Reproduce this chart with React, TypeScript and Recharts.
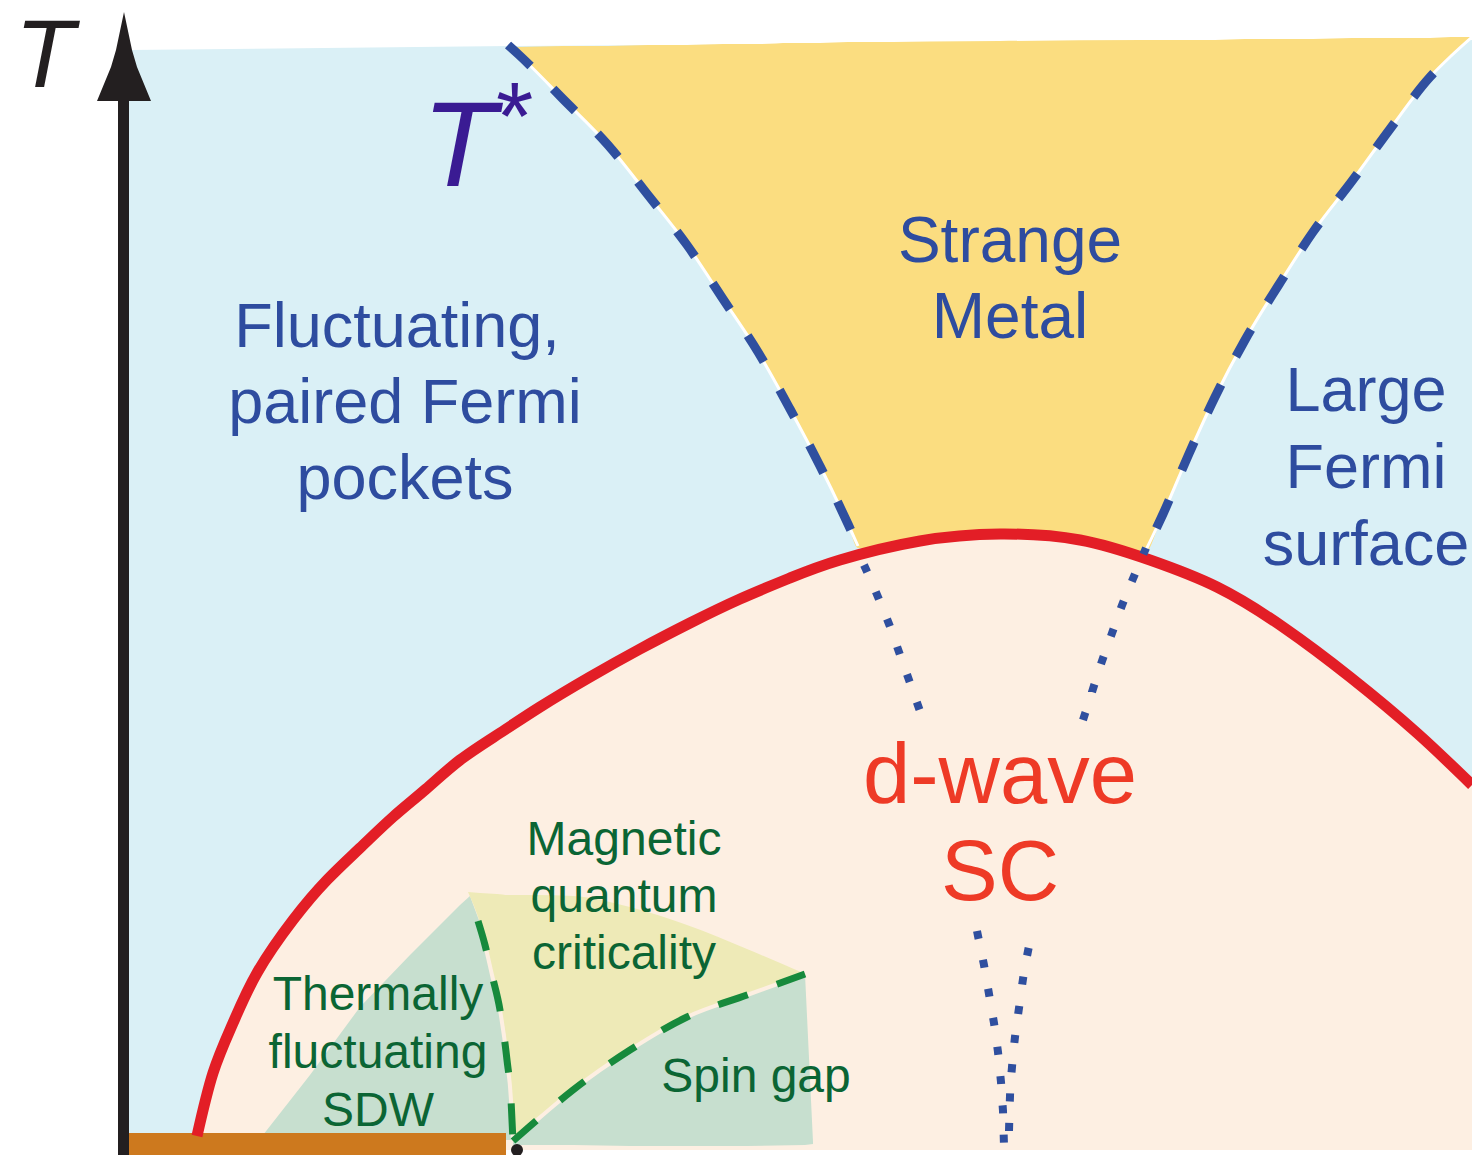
import React from 'react';
import { ComposedChart, Area, Line, Scatter, XAxis, YAxis, ReferenceDot } from 'recharts';

const W = 1472;
const H = 1155;
const FONT = '"Liberation Sans", Arial, Helvetica, sans-serif';

// Diagram units: x = doping (left to right), y = temperature drawn downward like the figure.

// pseudogap crossover T* (left branch, right branch)
const tStarLeft = [
  { x: 508, y: 45 }, { x: 518, y: 54 }, { x: 563, y: 99 }, { x: 608, y: 145 },
  { x: 648, y: 195 }, { x: 687, y: 245 }, { x: 723, y: 299 }, { x: 758, y: 352 },
  { x: 790, y: 409 }, { x: 820, y: 466 }, { x: 848, y: 524 }, { x: 858, y: 546 },
];
const tStarRight = [
  { x: 1143, y: 556 }, { x: 1163, y: 514 }, { x: 1188, y: 456 }, { x: 1215, y: 397 },
  { x: 1245, y: 340 }, { x: 1278, y: 286 }, { x: 1313, y: 232 }, { x: 1352, y: 181 },
  { x: 1390, y: 129 }, { x: 1430, y: 77 }, { x: 1451, y: 56 }, { x: 1472, y: 37 },
];

// superconducting dome Tc
const scDome = [
  { x: 197, y: 1136 }, { x: 213, y: 1073 }, { x: 233, y: 1023 }, { x: 257, y: 973 },
  { x: 293, y: 920 }, { x: 327, y: 880 }, { x: 360, y: 848 }, { x: 393, y: 817 },
  { x: 426, y: 789 }, { x: 460, y: 760 }, { x: 500, y: 733 }, { x: 540, y: 707 },
  { x: 590, y: 677 }, { x: 640, y: 649 }, { x: 690, y: 623 }, { x: 740, y: 599 },
  { x: 790, y: 578 }, { x: 840, y: 560 }, { x: 920, y: 541 }, { x: 1000, y: 534 },
  { x: 1080, y: 540 }, { x: 1150, y: 560 }, { x: 1217, y: 587 }, { x: 1283, y: 627 },
  { x: 1350, y: 677 }, { x: 1417, y: 733 }, { x: 1472, y: 785 },
];

// background (normal state) and strange metal fan
const normalState = [
  { x: 129, top: 50, bottom: 1150 }, { x: 510, top: 46, bottom: 1150 }, { x: 1472, top: 40, bottom: 1150 },
];
const strangeMetal = [
  { x: 508, top: 45, bottom: 45 }, { x: 518, top: 47, bottom: 54 }, { x: 563, top: 46, bottom: 99 },
  { x: 608, top: 46, bottom: 145 }, { x: 648, top: 45, bottom: 195 }, { x: 687, top: 45, bottom: 245 },
  { x: 723, top: 44, bottom: 299 }, { x: 758, top: 44, bottom: 352 }, { x: 790, top: 43, bottom: 409 },
  { x: 820, top: 43, bottom: 466 }, { x: 848, top: 42, bottom: 524 }, { x: 858, top: 42, bottom: 548 },
  { x: 1000, top: 41, bottom: 548 }, { x: 1143, top: 40, bottom: 556 }, { x: 1163, top: 40, bottom: 514 },
  { x: 1188, top: 40, bottom: 456 }, { x: 1215, top: 40, bottom: 397 }, { x: 1245, top: 39, bottom: 340 },
  { x: 1278, top: 39, bottom: 286 }, { x: 1313, top: 39, bottom: 232 }, { x: 1352, top: 38, bottom: 181 },
  { x: 1390, top: 38, bottom: 129 }, { x: 1430, top: 38, bottom: 77 }, { x: 1451, top: 37, bottom: 56 },
  { x: 1472, top: 37, bottom: 37 },
];

// magnetic regions inside the dome
const thermalSdw = [
  { x: 263, top: 1135, bottom: 1140 }, { x: 310, top: 1075, bottom: 1140 }, { x: 360, top: 1007, bottom: 1140 },
  { x: 410, top: 955, bottom: 1140 }, { x: 460, top: 905, bottom: 1140 }, { x: 470, top: 896, bottom: 1140 },
  { x: 480, top: 923, bottom: 1140 }, { x: 490, top: 960, bottom: 1140 }, { x: 497, top: 993, bottom: 1140 },
  { x: 503, top: 1027, bottom: 1140 }, { x: 508, top: 1060, bottom: 1140 }, { x: 511, top: 1100, bottom: 1140 },
  { x: 513, top: 1135, bottom: 1140 },
];
const quantumCritical = [
  { x: 468, top: 892, bottom: 892 }, { x: 480, top: 893, bottom: 923 }, { x: 497, top: 894, bottom: 993 },
  { x: 508, top: 895, bottom: 1060 }, { x: 513, top: 895, bottom: 1138 }, { x: 537, top: 895, bottom: 1120 },
  { x: 573, top: 896, bottom: 1090 }, { x: 630, top: 907, bottom: 1050 }, { x: 687, top: 925, bottom: 1017 },
  { x: 747, top: 949, bottom: 995 }, { x: 803, top: 973, bottom: 975 },
];
const spinGap = [
  { x: 513, top: 1140, bottom: 1145 }, { x: 537, top: 1120, bottom: 1145 }, { x: 573, top: 1090, bottom: 1145 },
  { x: 630, top: 1050, bottom: 1146 }, { x: 687, top: 1017, bottom: 1146 }, { x: 747, top: 995, bottom: 1146 },
  { x: 805, top: 974, bottom: 1145 }, { x: 813, top: 1142, bottom: 1144 },
];
const sdwDivider = [
  { x: 478, y: 921 }, { x: 485, y: 945 }, { x: 492, y: 975 }, { x: 500, y: 1010 },
  { x: 507, y: 1060 }, { x: 511, y: 1100 }, { x: 513, y: 1142 },
];
const spinGapEdge = [
  { x: 513, y: 1141 }, { x: 537, y: 1120 }, { x: 573, y: 1090 }, { x: 630, y: 1050 },
  { x: 687, y: 1017 }, { x: 747, y: 995 }, { x: 805, y: 974 },
];

// T* continued under the dome
const hiddenLeft = [
  { x: 864, y: 565 }, { x: 878, y: 597 }, { x: 889, y: 624 }, { x: 899, y: 652 }, { x: 909, y: 680 }, { x: 921, y: 714 },
];
const hiddenRight = [
  { x: 1083, y: 720 }, { x: 1092, y: 692 }, { x: 1101, y: 664 }, { x: 1111, y: 636 },
  { x: 1121, y: 608 }, { x: 1132, y: 581 }, { x: 1146, y: 548 },
];
const lowLeft = [
  { x: 977, y: 931 }, { x: 984, y: 965 }, { x: 989, y: 994 }, { x: 994, y: 1023 },
  { x: 998, y: 1052 }, { x: 1001, y: 1082 }, { x: 1003, y: 1111 }, { x: 1004, y: 1146 },
];
const lowRight = [
  { x: 1009, y: 1131 }, { x: 1010, y: 1096 }, { x: 1012, y: 1067 }, { x: 1015, y: 1037 },
  { x: 1019, y: 1008 }, { x: 1023, y: 979 }, { x: 1029, y: 946 },
];

// axis
const axisShaft = [{ x: 123.5, y: 1155 }, { x: 123.5, y: 98 }];
const axisHead = [
  { x: 97, top: 101, bottom: 101 }, { x: 111, top: 67, bottom: 101 }, { x: 116, top: 50, bottom: 101 },
  { x: 124, top: 12, bottom: 101 }, { x: 132, top: 50, bottom: 101 }, { x: 137, top: 67, bottom: 101 },
  { x: 151, top: 101, bottom: 101 },
];
const afmBar = [{ x: 124, top: 1133, bottom: 1155 }, { x: 506, top: 1133, bottom: 1155 }];

// label texts
const strangeText = ['Strange', 'Metal'];
const pocketsText = ['Fluctuating,', 'paired Fermi', 'pockets'];
const largeText = ['Large', 'Fermi', 'surface'];
const dwaveText = ['d-wave', 'SC'];
const magneticText = ['Magnetic', 'quantum', 'criticality'];
const thermalText = ['Thermally', 'fluctuating', 'SDW'];
const spinText = ['Spin gap'];

const BLUE = '#2e4c9f';
const GREEN = '#0b6534';

const labels = [
  { lines: strangeText, x: 1010, y: 262, size: 64, lh: 76, color: BLUE, shift: [0, 0] },
  { lines: pocketsText, x: 405, y: 347, size: 63, lh: 76, color: BLUE, shift: [-8, 0, 0] },
  { lines: largeText, x: 1366, y: 411, size: 63, lh: 77, color: BLUE, shift: [0, 0, 0] },
  { lines: dwaveText, x: 1000, y: 803, size: 85, lh: 97, color: '#ee3a26', shift: [0, 0] },
  { lines: magneticText, x: 624, y: 855, size: 48, lh: 57, color: GREEN, shift: [0, 0, 0] },
  { lines: thermalText, x: 378, y: 1010, size: 48, lh: 58, color: GREEN, shift: [0, 0, 0] },
  { lines: spinText, x: 756, y: 1092, size: 48, lh: 58, color: GREEN, shift: [0] },
];

const range = (d: any) => [d.bottom, d.top];

const fill = (data: any[], color: string, type: any = 'monotone') => (
  <Area
    data={data}
    dataKey={range}
    type={type}
    stroke="none"
    fill={color}
    fillOpacity={1}
    dot={false}
    activeDot={false}
    isAnimationActive={false}
  />
);

const curve = (data: any[], color: string, width: number, dash?: string, offset?: number, type: any = 'monotone') => (
  <Line
    data={data}
    dataKey="y"
    type={type}
    stroke={color}
    strokeWidth={width}
    strokeDasharray={dash}
    strokeDashoffset={offset}
    strokeLinecap="butt"
    dot={false}
    activeDot={false}
    isAnimationActive={false}
  />
);

export default function App() {
  return (
    <div style={{ position: 'absolute', left: 0, top: 0, width: W, height: H, background: '#fff', fontFamily: FONT }}>
      <ComposedChart width={W} height={H} margin={{ top: 0, right: 0, bottom: 0, left: 0 }}>
        <XAxis type="number" dataKey="x" domain={[0, W]} allowDataOverflow hide />
        <YAxis type="number" dataKey="y" domain={[0, H]} reversed allowDataOverflow hide />

        {fill(normalState, '#daf0f6', 'linear')}
        {fill(strangeMetal, '#fbdd80')}
        {fill(scDome.map((p) => ({ x: p.x, top: p.y, bottom: 1150 })), '#fdefe2', 'natural')}
        {fill(thermalSdw, '#c7dfcf', 'linear')}
        {fill(quantumCritical, '#eeeab7')}
        {fill(spinGap, '#c7dfcf', 'linear')}
        {fill(axisHead, '#231f20', 'linear')}
        {fill(afmBar, '#cd791e', 'linear')}

        {curve(tStarLeft, '#ffffff', 3)}
        {curve(tStarRight, '#ffffff', 3)}
        {curve(sdwDivider, '#fdefe2', 4)}
        {curve(spinGapEdge, '#fdefe2', 4)}
        {curve(tStarLeft, '#2f4f9f', 9, '31 32', 0)}
        {curve(tStarRight.slice(0, -1), '#2f4f9f', 9, '31 32', 32)}
        {curve(scDome, '#e31e26', 11, undefined, undefined, 'natural')}
        {curve(hiddenLeft, '#2f4f9f', 8, '8 21.4', 0)}
        {curve(hiddenRight, '#2f4f9f', 8, '8 21.4', 0)}
        {curve(lowLeft, '#2f4f9f', 8, '8 21.4', 0, 'linear')}
        {curve(lowRight, '#2f4f9f', 8, '8 21.4', 0)}
        {curve(sdwDivider, '#178a3c', 7, '31 31', 0)}
        {curve(spinGapEdge, '#178a3c', 7, '31 31', 0)}
        {curve(axisShaft, '#231f20', 11, undefined, undefined, 'linear')}

        <ReferenceDot x={517} y={1150} r={6} fill="#231f20" stroke="none" />

        <Scatter
          data={[{ x: 15, y: 87 }]}
          dataKey="y"
          isAnimationActive={false}
          shape={(p: any) => (
            <text x={p.cx} y={p.cy} fontFamily={FONT} fontStyle="italic" fontSize={97} fill="#231f20">T</text>
          )}
        />
        <Scatter
          data={[{ x: 422, y: 186 }]}
          dataKey="y"
          isAnimationActive={false}
          shape={(p: any) => (
            <g>
              <text x={p.cx} y={p.cy} fontFamily={FONT} fontStyle="italic" fontSize={121} fill="#3a1b93">T</text>
              <text x={p.cx + 74} y={p.cy - 37} fontFamily={FONT} fontSize={96} fill="#3a1b93">*</text>
            </g>
          )}
        />
        {labels.map((l, i) => (
          <Scatter
            key={i}
            data={[{ x: l.x, y: l.y }]}
            dataKey="y"
            isAnimationActive={false}
            shape={(p: any) => (
              <text x={p.cx} y={p.cy} textAnchor="middle" fontFamily={FONT} fontSize={l.size} fill={l.color}>
                {l.lines.map((t, j) => (
                  <tspan key={j} x={p.cx + l.shift[j]} dy={j === 0 ? 0 : l.lh}>{t}</tspan>
                ))}
              </text>
            )}
          />
        ))}
      </ComposedChart>
    </div>
  );
}
